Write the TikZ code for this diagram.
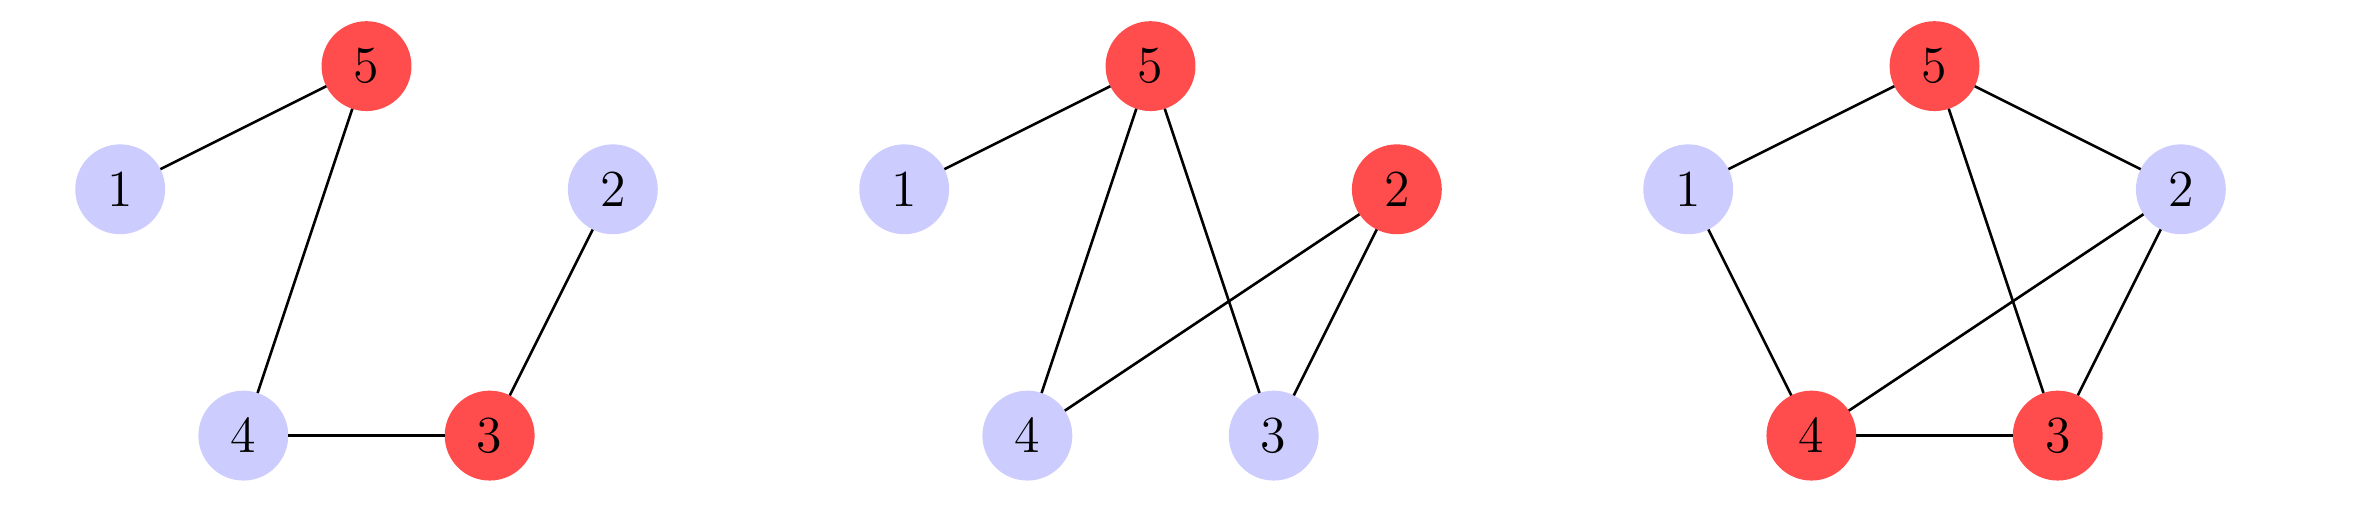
\documentclass[tikz,border=0pt]{standalone}
\usepackage{amsmath}

\begin{document}
\begin{tikzpicture}[
    vtx/.style={circle, fill=blue!20, minimum size=7.3mm, inner sep=0pt, outer sep=0pt, font=\large},
    hot/.style={vtx, fill=red!70},
    edge/.style={black, semithick}
  ]
    \useasboundingbox (-2.976,0.537) rectangle (16.146,-3.756);

    % first graph
    \begin{scope}
        \node[vtx] (a1) at (-2,-1) {\(1\)};
        \node[vtx] (a2) at ( 2,-1) {\(2\)};
        \node[hot] (a3) at ( 1,-3) {\(3\)};
        \node[vtx] (a4) at (-1,-3) {\(4\)};
        \node[hot] (a5) at ( 0, 0) {\(5\)};
        \foreach \u/\v in {5/1, 5/4, 4/3, 3/2}
            \draw[edge] (a\u) -- (a\v);
    \end{scope}

    % second graph
    \begin{scope}[xshift=6.366cm]
        \node[vtx] (b1) at (-2,-1) {\(1\)};
        \node[hot] (b2) at ( 2,-1) {\(2\)};
        \node[vtx] (b3) at ( 1,-3) {\(3\)};
        \node[vtx] (b4) at (-1,-3) {\(4\)};
        \node[hot] (b5) at ( 0, 0) {\(5\)};
        \foreach \u/\v in {5/1, 5/4, 5/3, 2/4, 2/3}
            \draw[edge] (b\u) -- (b\v);
    \end{scope}

    % third graph
    \begin{scope}[xshift=12.732cm]
        \node[vtx] (c1) at (-2,-1) {\(1\)};
        \node[vtx] (c2) at ( 2,-1) {\(2\)};
        \node[hot] (c3) at ( 1,-3) {\(3\)};
        \node[hot] (c4) at (-1,-3) {\(4\)};
        \node[hot] (c5) at ( 0, 0) {\(5\)};
        \foreach \u/\v in {5/1, 5/2, 5/3, 1/4, 4/3, 2/4, 2/3}
            \draw[edge] (c\u) -- (c\v);
    \end{scope}
\end{tikzpicture}
\end{document}
